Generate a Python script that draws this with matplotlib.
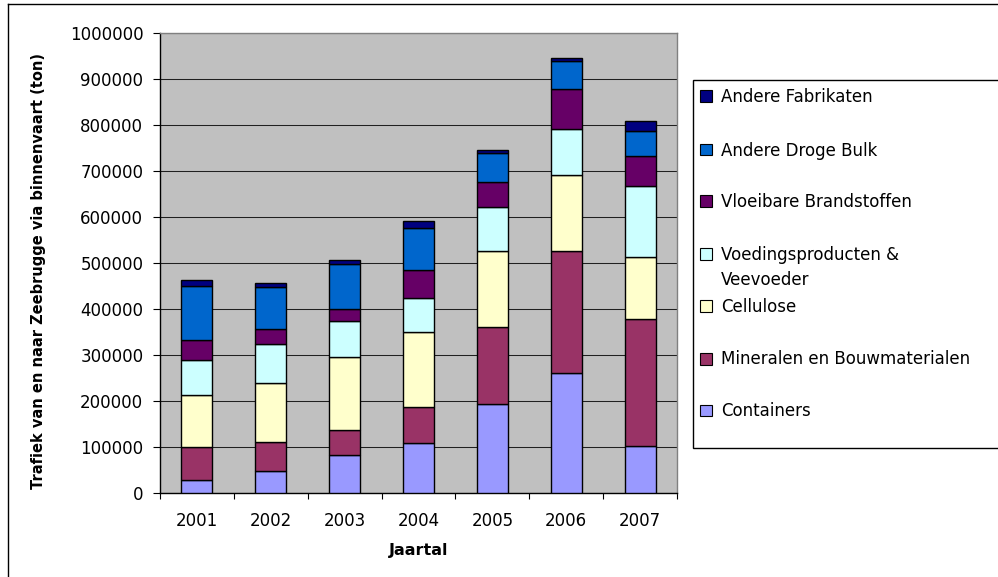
import numpy as np
import matplotlib
matplotlib.use("Agg")
import matplotlib.pyplot as plt
from matplotlib.patches import Rectangle
from matplotlib.lines import Line2D

# Tonnage per year and goods category (ton)
years = ["2001", "2002", "2003", "2004", "2005", "2006", "2007"]
containers = [28000, 46600, 81500, 107600, 192600, 260000, 102400]
mineralen = [71000, 64000, 55500, 78400, 167000, 266500, 275400]
cellulose = [114000, 129000, 158600, 164700, 167500, 164100, 134200]
voeding = [76000, 84400, 79100, 72800, 95500, 100200, 155500]
vloeibare = [44000, 32600, 25300, 61500, 53000, 87200, 64500]
droge_bulk = [117000, 91400, 98300, 91000, 64700, 61800, 55000]
fabrikaten = [13000, 9000, 9000, 15000, 5900, 5700, 22000]

series_names = ["Containers", "Mineralen en Bouwmaterialen", "Cellulose",
                "Voedingsproducten &\nVeevoeder", "Vloeibare Brandstoffen",
                "Andere Droge Bulk", "Andere Fabrikaten"]
series_values = [containers, mineralen, cellulose, voeding, vloeibare,
                 droge_bulk, fabrikaten]
series_colors = ["#9999FF", "#993366", "#FFFFCC", "#CCFFFF", "#660066",
                 "#0066CC", "#000080"]
y_ticks = [0, 100000, 200000, 300000, 400000, 500000, 600000, 700000,
           800000, 900000, 1000000]

W, H = 998, 577
plt.rcParams["font.family"] = ["DejaVu Sans"]
fig = plt.figure(figsize=(W / 100, H / 100), dpi=100)


def fx(px):
    return px / W


def fy(py):
    return 1 - py / H


# Plot area
left, right, top, bottom = 160, 677, 33.3, 492.7
ax = fig.add_axes([fx(left), fy(bottom), fx(right - left), (bottom - top) / H])
ax.set_facecolor("#C0C0C0")

x = np.arange(len(years))
base = np.zeros(len(years))
for vals, col in zip(series_values, series_colors):
    ax.bar(x, vals, width=0.42, bottom=base, color=col, edgecolor="black",
           linewidth=1.0, zorder=3)
    base = base + np.array(vals)

ax.set_xlim(-0.5, len(years) - 0.5)
ax.set_ylim(0, 1000000)
ax.set_yticks(y_ticks)
ax.set_yticklabels([str(v) for v in y_ticks], fontsize=12)
ax.yaxis.grid(True, color="#202020", linewidth=0.75, zorder=1)
ax.set_axisbelow(True)
ax.tick_params(axis="y", direction="out", length=5, width=0.8, pad=7,
               colors="black")

ax.set_xticks(x)
ax.set_xticklabels(years, fontsize=12)
ax.tick_params(axis="x", which="major", length=0, pad=14)
ax.set_xticks(np.arange(-0.5, len(years)), minor=True)
ax.tick_params(axis="x", which="minor", direction="out", length=4, width=0.8)

for side in ("left", "bottom"):
    ax.spines[side].set_color("black")
    ax.spines[side].set_linewidth(1.0)
for side in ("top", "right"):
    ax.spines[side].set_color("#808080")
    ax.spines[side].set_linewidth(1.0)

fig.text(fx(418.5), fy(550), "Jaartal", fontsize=11.5, fontweight="bold",
         ha="center", va="center")
fig.text(fx(39), fy(271), "Trafiek van en naar Zeebrugge via binnenvaart (ton)",
         fontsize=10.5, fontweight="bold", rotation=90, ha="center", va="center")

# Outer chart border
fig.add_artist(Line2D([fx(7.7), fx(7.7)], [fy(4.3), fy(H + 5)], color="black",
                      linewidth=1.0, transform=fig.transFigure))
fig.add_artist(Line2D([fx(7.7), fx(W + 5)], [fy(4.3), fy(4.3)], color="black",
                      linewidth=1.0, transform=fig.transFigure))

# Legend box
lx0, ly0, ly1 = 693.3, 80, 448.3
fig.add_artist(Rectangle((fx(lx0), fy(ly1)), fx(W + 10 - lx0), (ly1 - ly0) / H,
                         facecolor="white", edgecolor="black", linewidth=1.0,
                         transform=fig.transFigure))
entry_y = [410.7, 359, 306, 254, 201, 150, 96]
for name, col, yc in zip(series_names, series_colors, entry_y):
    fig.add_artist(Rectangle((fx(700), fy(yc + 5.5)), fx(11.5), 11.5 / H,
                             facecolor=col, edgecolor="black", linewidth=0.8,
                             transform=fig.transFigure))
    fig.text(fx(721), fy(yc - 8.5), name, fontsize=12, ha="left", va="top",
             linespacing=1.55)

fig.savefig("out.png", dpi=100)
